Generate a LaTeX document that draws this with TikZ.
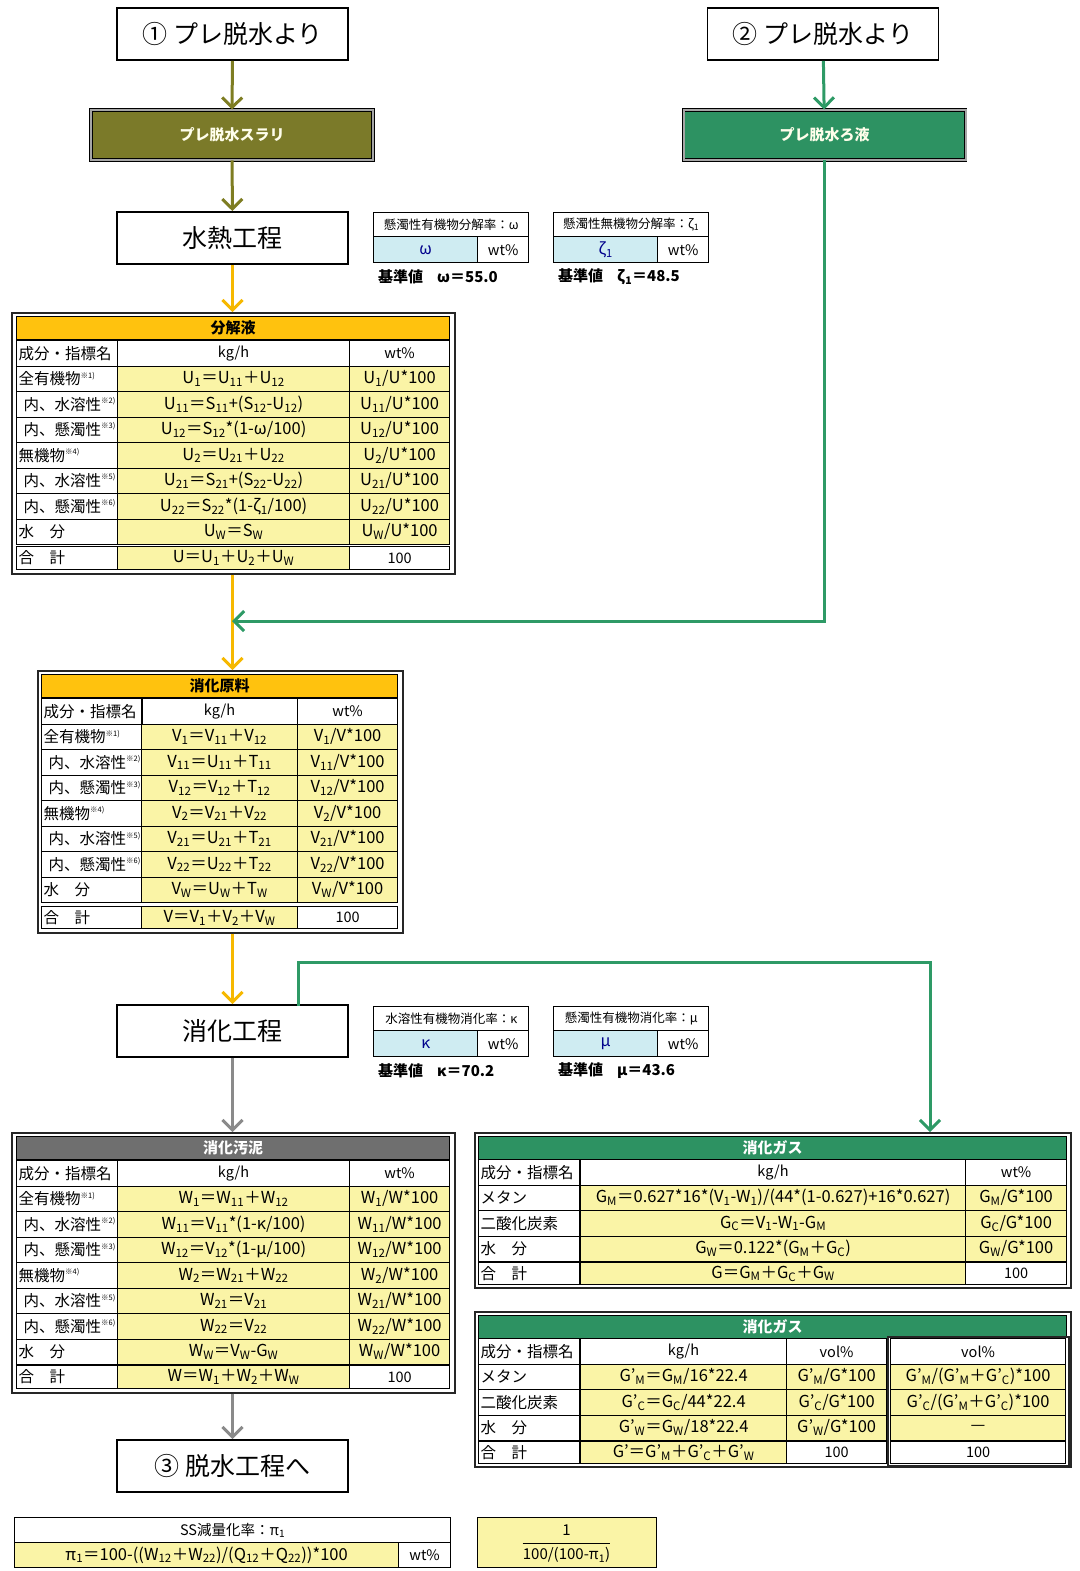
\documentclass[tikz,border=0pt]{standalone}
\usepackage{fontspec}
\setmainfont{Noto Sans CJK JP}
\usetikzlibrary{arrows.meta}

\definecolor{olv}{HTML}{7B7A29}
\definecolor{olvline}{HTML}{7E7D22}
\definecolor{grn}{HTML}{2D9262}
\definecolor{grnline}{HTML}{2E9A66}
\definecolor{orng}{HTML}{FFC20E}
\definecolor{orngline}{HTML}{F6B800}
\definecolor{yel}{HTML}{FAF4A6}
\definecolor{lblue}{HTML}{CFECF2}
\definecolor{gry}{HTML}{6F6F6F}
\definecolor{gryline}{HTML}{8A8A8A}

\newcommand\sbs[1]{\textsubscript{#1}}
\newcommand\chu[1]{\raisebox{0.8ex}{\fontsize{7.5}{7.5}\selectfont ※#1)}}
\newcommand\ind{\hspace*{5pt}}

\begin{document}
\begin{tikzpicture}[x=1pt, y=-1pt,
    proc/.style={draw, line width=1.8pt, minimum width=231, minimum height=52, inner sep=0pt, font=\fontsize{25}{25}\selectfont},
    stream/.style={draw=black, line width=0.9pt, double=black!35, double distance=2pt, minimum width=282, minimum height=50, inner sep=0pt, text=yellow!8, font=\fontsize{15}{15}\selectfont\bfseries},
    frame/.style={draw=black!85, line width=1.6pt, anchor=north west, inner sep=0pt, fill=white},
    bar/.style={draw, line width=1.2pt, anchor=north west, inner sep=0pt, minimum height=23, font=\fontsize{15}{15}\selectfont\bfseries},
    cell/.style={draw, line width=1.2pt, anchor=north west, inner sep=0pt, minimum height=25.5, font=\fontsize{14.5}{14.5}\selectfont},
    lab/.style={cell, text width=97, inner xsep=2, align=left, font=\fontsize{15.5}{15.5}\selectfont},
    val/.style={cell, fill=yel, font=\fontsize{16.5}{16.5}\selectfont},
    pcell/.style={draw, line width=1.4pt, anchor=north west, inner sep=0pt},
    base/.style={anchor=west, inner sep=0pt, font=\fontsize{15}{15}\selectfont\bfseries},
    flow/.style={line width=3pt, -{Straight Barb[length=10pt,width=20pt]}}]

  \useasboundingbox (0,0) rectangle (1079,1571);

  % process boxes
  \node[proc] (pre1) at (232.5,34) {① プレ脱水より};
  \node[proc] (pre2) at (823,34) {② プレ脱水より};
  \node[stream, fill=olv] (slurry) at (232,135) {プレ脱水スラリ};
  \node[stream, fill=grn] (filt) at (824.5,135) {プレ脱水ろ液};
  \node[proc] (hydro) at (232.5,238) {水熱工程};
  \node[proc] (shoka) at (232.5,1031) {消化工程};
  \node[proc] (dassui) at (232.5,1466) {③ 脱水工程へ};

  % parameters
  \node[pcell, minimum width=155, minimum height=24, font=\fontsize{12.5}{12.5}\selectfont] (omgT) at (373,212) {懸濁性有機物分解率：ω};
  \node[pcell, fill=lblue, minimum width=104, minimum height=26, text=blue!55!black, font=\fontsize{16}{16}\selectfont] (omgV) at (373,236) {ω};
  \node[pcell, minimum width=51, minimum height=26, font=\fontsize{14.5}{14.5}\selectfont] (omgU) at (477,236) {wt\%};
  \node[base] (omgB) at (378,277) {基準値\hspace{14pt}ω＝55.0};

  \node[pcell, minimum width=155, minimum height=24, font=\fontsize{12.5}{12.5}\selectfont] (zetT) at (553,212) {懸濁性無機物分解率：ζ\sbs{1}};
  \node[pcell, fill=lblue, minimum width=104, minimum height=26, text=blue!55!black, font=\fontsize{16}{16}\selectfont] (zetV) at (553,236) {ζ\sbs{1}};
  \node[pcell, minimum width=51, minimum height=26, font=\fontsize{14.5}{14.5}\selectfont] (zetU) at (657,236) {wt\%};
  \node[base] (zetB) at (558,277) {基準値\hspace{14pt}ζ\sbs{1}＝48.5};

  \node[pcell, minimum width=155, minimum height=24, font=\fontsize{12.5}{12.5}\selectfont] (kapT) at (373,1006) {水溶性有機物消化率：κ};
  \node[pcell, fill=lblue, minimum width=104, minimum height=26, text=blue!55!black, font=\fontsize{16}{16}\selectfont] (kapV) at (373,1030) {κ};
  \node[pcell, minimum width=51, minimum height=26, font=\fontsize{14.5}{14.5}\selectfont] (kapU) at (477,1030) {wt\%};
  \node[base] (kapB) at (378,1071) {基準値\hspace{14pt}κ＝70.2};

  \node[pcell, minimum width=155, minimum height=24, font=\fontsize{12.5}{12.5}\selectfont] (muT) at (553,1006) {懸濁性有機物消化率：μ};
  \node[pcell, fill=lblue, minimum width=104, minimum height=26, text=blue!55!black, font=\fontsize{16}{16}\selectfont] (muV) at (553,1030) {μ};
  \node[pcell, minimum width=51, minimum height=26, font=\fontsize{14.5}{14.5}\selectfont] (muU) at (657,1030) {wt\%};
  \node[base] (muB) at (558,1071) {基準値\hspace{14pt}μ＝43.6};

  % 分解液
  \node[frame, minimum width=443, minimum height=261] (bunkai) at (11,312) {};
  \node[bar, fill=orng, minimum width=433] (bk-h) at (16,316) {分解液};
  \node[lab] (bk-l-0) at (16,340) {成分・指標名};
  \node[cell, minimum width=232] (bk-k-0) at (117,340) {kg/h};
  \node[cell, minimum width=100] (bk-w-0) at (349,340) {wt\%};
  \foreach \lab/\kg/\wt [count=\i] in {
      {全有機物\chu{1}}/{U\sbs{1}＝U\sbs{11}＋U\sbs{12}}/{U\sbs{1}/U*100},
      {\ind 内、水溶性\chu{2}}/{U\sbs{11}＝S\sbs{11}+(S\sbs{12}-U\sbs{12})}/{U\sbs{11}/U*100},
      {\ind 内、懸濁性\chu{3}}/{U\sbs{12}＝S\sbs{12}*(1-ω/100)}/{U\sbs{12}/U*100},
      {無機物\chu{4}}/{U\sbs{2}＝U\sbs{21}＋U\sbs{22}}/{U\sbs{2}/U*100},
      {\ind 内、水溶性\chu{5}}/{U\sbs{21}＝S\sbs{21}+(S\sbs{22}-U\sbs{22})}/{U\sbs{21}/U*100},
      {\ind 内、懸濁性\chu{6}}/{U\sbs{22}＝S\sbs{22}*(1-ζ\sbs{1}/100)}/{U\sbs{22}/U*100},
      {水　分}/{U\sbs{W}＝S\sbs{W}}/{U\sbs{W}/U*100}}{
    \node[lab] (bk-l-\i) at (16,{340+25.5*\i}) {\lab};
    \node[val, minimum width=232] (bk-k-\i) at (117,{340+25.5*\i}) {\kg};
    \node[val, minimum width=100] (bk-w-\i) at (349,{340+25.5*\i}) {\wt};
  }
  \node[lab, minimum height=23] (bk-l-t) at (16,546) {合　計};
  \node[val, minimum width=232, minimum height=23] (bk-k-t) at (117,546) {U＝U\sbs{1}＋U\sbs{2}＋U\sbs{W}};
  \node[cell, minimum width=100, minimum height=23] (bk-w-t) at (349,546) {100};

  % 消化原料
  \node[frame, minimum width=365, minimum height=262] (genryo) at (37,670) {};
  \node[bar, fill=orng, minimum width=356] (gr-h) at (41,674) {消化原料};
  \node[lab] (gr-l-0) at (41,698) {成分・指標名};
  \node[cell, minimum width=156] (gr-k-0) at (141,698) {kg/h};
  \node[cell, minimum width=100] (gr-w-0) at (297,698) {wt\%};
  \foreach \lab/\kg/\wt [count=\i] in {
      {全有機物\chu{1}}/{V\sbs{1}＝V\sbs{11}＋V\sbs{12}}/{V\sbs{1}/V*100},
      {\ind 内、水溶性\chu{2}}/{V\sbs{11}＝U\sbs{11}＋T\sbs{11}}/{V\sbs{11}/V*100},
      {\ind 内、懸濁性\chu{3}}/{V\sbs{12}＝V\sbs{12}＋T\sbs{12}}/{V\sbs{12}/V*100},
      {無機物\chu{4}}/{V\sbs{2}＝V\sbs{21}＋V\sbs{22}}/{V\sbs{2}/V*100},
      {\ind 内、水溶性\chu{5}}/{V\sbs{21}＝U\sbs{21}＋T\sbs{21}}/{V\sbs{21}/V*100},
      {\ind 内、懸濁性\chu{6}}/{V\sbs{22}＝U\sbs{22}＋T\sbs{22}}/{V\sbs{22}/V*100},
      {水　分}/{V\sbs{W}＝U\sbs{W}＋T\sbs{W}}/{V\sbs{W}/V*100}}{
    \node[lab] (gr-l-\i) at (41,{698+25.5*\i}) {\lab};
    \node[val, minimum width=156] (gr-k-\i) at (141,{698+25.5*\i}) {\kg};
    \node[val, minimum width=100] (gr-w-\i) at (297,{698+25.5*\i}) {\wt};
  }
  \node[lab, minimum height=22] (gr-l-t) at (41,906) {合　計};
  \node[val, minimum width=156, minimum height=22] (gr-k-t) at (141,906) {V＝V\sbs{1}＋V\sbs{2}＋V\sbs{W}};
  \node[cell, minimum width=100, minimum height=22] (gr-w-t) at (297,906) {100};

  % 消化汚泥
  \node[frame, minimum width=443, minimum height=260] (osei) at (11,1132) {};
  \node[bar, fill=gry, text=white, minimum width=433] (os-h) at (16,1136) {消化汚泥};
  \node[lab] (os-l-0) at (16,1160) {成分・指標名};
  \node[cell, minimum width=232] (os-k-0) at (117,1160) {kg/h};
  \node[cell, minimum width=100] (os-w-0) at (349,1160) {wt\%};
  \foreach \lab/\kg/\wt [count=\i] in {
      {全有機物\chu{1}}/{W\sbs{1}＝W\sbs{11}＋W\sbs{12}}/{W\sbs{1}/W*100},
      {\ind 内、水溶性\chu{2}}/{W\sbs{11}＝V\sbs{11}*(1-κ/100)}/{W\sbs{11}/W*100},
      {\ind 内、懸濁性\chu{3}}/{W\sbs{12}＝V\sbs{12}*(1-μ/100)}/{W\sbs{12}/W*100},
      {無機物\chu{4}}/{W\sbs{2}＝W\sbs{21}＋W\sbs{22}}/{W\sbs{2}/W*100},
      {\ind 内、水溶性\chu{5}}/{W\sbs{21}＝V\sbs{21}}/{W\sbs{21}/W*100},
      {\ind 内、懸濁性\chu{6}}/{W\sbs{22}＝V\sbs{22}}/{W\sbs{22}/W*100},
      {水　分}/{W\sbs{W}＝V\sbs{W}-G\sbs{W}}/{W\sbs{W}/W*100}}{
    \node[lab] (os-l-\i) at (16,{1160+25.5*\i}) {\lab};
    \node[val, minimum width=232] (os-k-\i) at (117,{1160+25.5*\i}) {\kg};
    \node[val, minimum width=100] (os-w-\i) at (349,{1160+25.5*\i}) {\wt};
  }
  \node[lab, minimum height=23] (os-l-t) at (16,1365) {合　計};
  \node[val, minimum width=232, minimum height=23] (os-k-t) at (117,1365) {W＝W\sbs{1}＋W\sbs{2}＋W\sbs{W}};
  \node[cell, minimum width=100, minimum height=23] (os-w-t) at (349,1365) {100};

  % 消化ガス (kg/h)
  \node[frame, minimum width=596, minimum height=155] (gas) at (474,1132) {};
  \node[bar, fill=grn, text=white, minimum width=588] (gs-h) at (478,1136) {消化ガス};
  \node[lab] (gs-l-0) at (478,1159) {成分・指標名};
  \node[cell, minimum width=385] (gs-k-0) at (580,1159) {kg/h};
  \node[cell, minimum width=101] (gs-w-0) at (965,1159) {wt\%};
  \foreach \lab/\kg/\wt [count=\i] in {
      {メタン}/{G\sbs{M}＝0.627*16*(V\sbs{1}-W\sbs{1})/(44*(1-0.627)+16*0.627)}/{G\sbs{M}/G*100},
      {二酸化炭素}/{G\sbs{C}＝V\sbs{1}-W\sbs{1}-G\sbs{M}}/{G\sbs{C}/G*100},
      {水　分}/{G\sbs{W}＝0.122*(G\sbs{M}＋G\sbs{C})}/{G\sbs{W}/G*100}}{
    \node[lab] (gs-l-\i) at (478,{1159+25.5*\i}) {\lab};
    \node[val, minimum width=385] (gs-k-\i) at (580,{1159+25.5*\i}) {\kg};
    \node[val, minimum width=101] (gs-w-\i) at (965,{1159+25.5*\i}) {\wt};
  }
  \node[lab, minimum height=22] (gs-l-t) at (478,1262) {合　計};
  \node[val, minimum width=385, minimum height=22] (gs-k-t) at (580,1262) {G＝G\sbs{M}＋G\sbs{C}＋G\sbs{W}};
  \node[cell, minimum width=101, minimum height=22] (gs-w-t) at (965,1262) {100};

  % 消化ガス (vol%)
  \node[frame, minimum width=596, minimum height=155] (gasv) at (474,1311) {};
  \node[bar, fill=grn, text=white, minimum width=588] (gv-h) at (478,1315) {消化ガス};
  \node[frame, minimum width=181, minimum height=129] (gv-box) at (887,1336) {};
  \node[lab] (gv-l-0) at (478,1338) {成分・指標名};
  \node[cell, minimum width=206] (gv-k-0) at (580,1338) {kg/h};
  \node[cell, minimum width=100] (gv-v-0) at (786,1338) {vol\%};
  \node[cell, minimum width=175] (gv-r-0) at (890,1338) {vol\%};
  \foreach \lab/\kg/\vol/\rat [count=\i] in {
      {メタン}/{G'\sbs{M}＝G\sbs{M}/16*22.4}/{G'\sbs{M}/G*100}/{G'\sbs{M}/(G'\sbs{M}＋G'\sbs{C})*100},
      {二酸化炭素}/{G'\sbs{C}＝G\sbs{C}/44*22.4}/{G'\sbs{C}/G*100}/{G'\sbs{C}/(G'\sbs{M}＋G'\sbs{C})*100},
      {水　分}/{G'\sbs{W}＝G\sbs{W}/18*22.4}/{G'\sbs{W}/G*100}/{—}}{
    \node[lab] (gv-l-\i) at (478,{1338+25.5*\i}) {\lab};
    \node[val, minimum width=206] (gv-k-\i) at (580,{1338+25.5*\i}) {\kg};
    \node[val, minimum width=100] (gv-v-\i) at (786,{1338+25.5*\i}) {\vol};
    \node[val, minimum width=175] (gv-r-\i) at (890,{1338+25.5*\i}) {\rat};
  }
  \node[lab, minimum height=22] (gv-l-t) at (478,1441) {合　計};
  \node[val, minimum width=206, minimum height=22] (gv-k-t) at (580,1441) {G'＝G'\sbs{M}＋G'\sbs{C}＋G'\sbs{W}};
  \node[cell, minimum width=100, minimum height=22] (gv-v-t) at (786,1441) {100};
  \node[cell, minimum width=175, minimum height=22] (gv-r-t) at (890,1441) {100};

  % SS減量化率
  \node[cell, minimum width=436, minimum height=25] (ssT) at (14,1517) {SS減量化率：π\sbs{1}};
  \node[val, minimum width=384, minimum height=25] (ssV) at (14,1542) {π\sbs{1}＝100-((W\sbs{12}＋W\sbs{22})/(Q\sbs{12}＋Q\sbs{22}))*100};
  \node[cell, minimum width=52, minimum height=25] (ssU) at (398,1542) {wt\%};
  \node[cell, fill=yel, minimum width=179, minimum height=50] (frac) at (477,1517) {};
  \node[inner sep=0pt, font=\fontsize{15}{15}\selectfont] (fracN) at (566.5,1530) {1};
  \node[inner sep=0pt, font=\fontsize{15}{15}\selectfont] (fracD) at (566.5,1555) {100/(100-π\sbs{1})};
  \draw[line width=1.2pt] ([yshift=4pt]fracD.north west) -- ([yshift=4pt]fracD.north east);

  % flows
  \draw[flow, olvline] (pre1) -- (slurry);
  \draw[flow, olvline] (slurry) -- (hydro);
  \draw[flow, grnline] (pre2) -- (filt);
  \draw[flow, orngline] (hydro) -- (bunkai.north -| hydro);
  \coordinate (merge) at (232,621);
  \draw[flow, orngline] (bunkai.south -| hydro) -- (genryo.north -| hydro);
  \draw[flow, grnline] (filt) |- (merge);
  \draw[flow, orngline] (genryo.south -| shoka) -- (shoka);
  \coordinate (gasout) at (298,1006);
  \coordinate (gasin) at (930,1132);
  \draw[flow, grnline] (gasout) -- ++(0,-44) -| (gasin);
  \draw[flow, gryline] (shoka) -- (osei.north -| shoka);
  \draw[flow, gryline] (osei.south -| dassui) -- (dassui);

\end{tikzpicture}
\end{document}
